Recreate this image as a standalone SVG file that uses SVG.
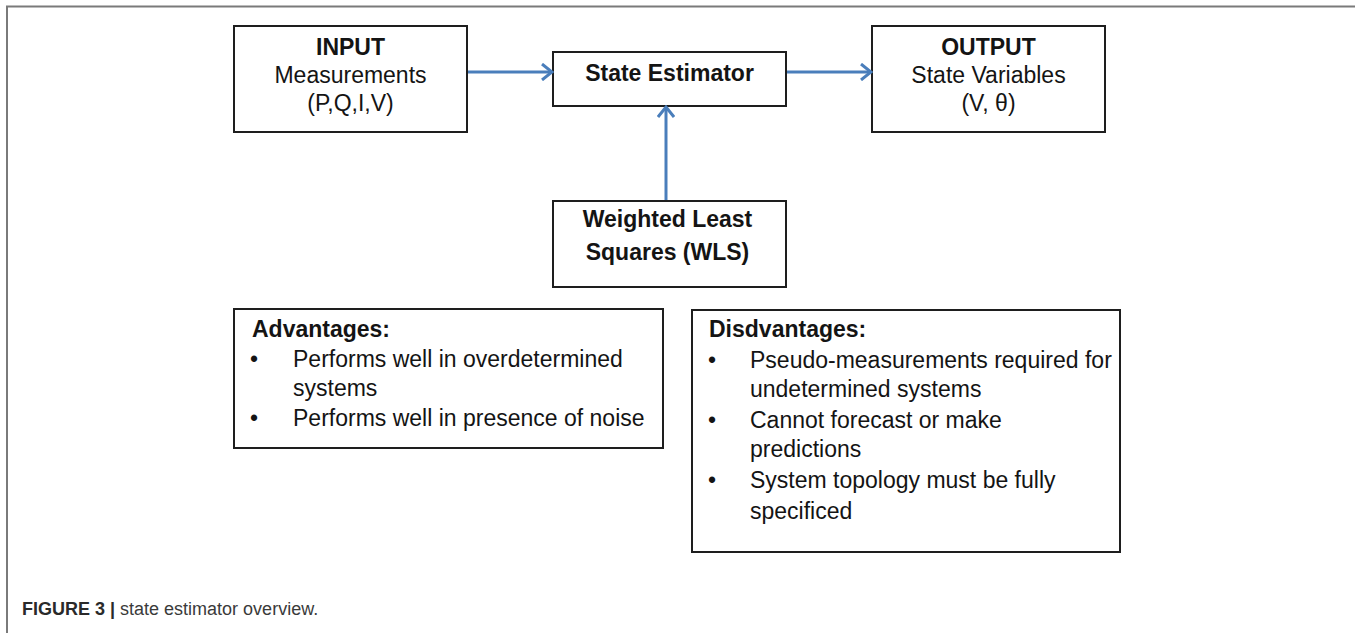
<svg xmlns="http://www.w3.org/2000/svg" width="1355" height="633" viewBox="0 0 1355 633">
<style>
text{font-family:"Liberation Sans",Arial,Helvetica,sans-serif;fill:#141414}
.b{font-weight:bold}
.n{font-size:23px}
.c{text-anchor:middle}
.box{fill:#fff;stroke:#1e1e1e;stroke-width:2}
.conn{stroke:#4a7ebb;stroke-width:3;fill:none}
.cap{font-size:18px;fill:#3a3a3a}
</style>
<defs>
<marker id="arr" viewBox="0 0 14 18" refX="12" refY="9" markerWidth="14" markerHeight="18" markerUnits="userSpaceOnUse" orient="auto">
<path d="M2,1 L12,9 L2,17" fill="none" stroke="#4a7ebb" stroke-width="3"/>
</marker>
</defs>
<rect width="1355" height="633" fill="#fff"/>
<path d="M7,633 L7,6.5 L1355,6.5" fill="none" stroke="#7a7a7a" stroke-width="2"/>

<g id="input">
<rect class="box" x="234" y="26" width="233" height="106"/>
<text class="n b c" x="350.5" y="55">INPUT</text>
<text class="n c" x="350.5" y="83">Measurements</text>
<text class="n c" x="350.5" y="111">(P,Q,I,V)</text>
</g>

<g id="state-estimator">
<rect class="box" x="553" y="52" width="233" height="54"/>
<text class="n b c" x="669.5" y="81">State Estimator</text>
</g>

<g id="output">
<rect class="box" x="872" y="26" width="233" height="106"/>
<text class="n b c" x="988.5" y="55">OUTPUT</text>
<text class="n c" x="988.5" y="83">State Variables</text>
<text class="n c" x="988.5" y="111">(V, θ)</text>
</g>

<g id="wls">
<rect class="box" x="553" y="201" width="233" height="86"/>
<text class="n b c" x="667.5" y="227">Weighted Least</text>
<text class="n b c" x="667.5" y="260">Squares (WLS)</text>
</g>

<g id="advantages">
<rect class="box" x="234" y="309" width="429" height="139"/>
<text class="n b" x="252" y="337">Advantages:</text>
<text class="n" x="250" y="367">•</text>
<text class="n" x="293" y="367">Performs well in overdetermined</text>
<text class="n" x="293" y="396">systems</text>
<text class="n" x="250" y="426">•</text>
<text class="n" x="293" y="426">Performs well in presence of noise</text>
</g>

<g id="disadvantages">
<rect class="box" x="692" y="310" width="428" height="242"/>
<text class="n b" x="709" y="337">Disdvantages:</text>
<text class="n" x="708" y="368">•</text>
<text class="n" x="750" y="368">Pseudo-measurements required for</text>
<text class="n" x="750" y="397">undetermined systems</text>
<text class="n" x="708" y="428">•</text>
<text class="n" x="750" y="428">Cannot forecast or make</text>
<text class="n" x="750" y="457">predictions</text>
<text class="n" x="708" y="488">•</text>
<text class="n" x="750" y="488">System topology must be fully</text>
<text class="n" x="750" y="519">specificed</text>
</g>

<g id="connectors">
<line class="conn" x1="468" y1="72" x2="552" y2="72" marker-end="url(#arr)"/>
<line class="conn" x1="787" y1="72" x2="871" y2="72" marker-end="url(#arr)"/>
<line class="conn" x1="666" y1="200" x2="666" y2="107" marker-end="url(#arr)"/>
</g>

<text class="cap" x="22" y="615"><tspan class="b" fill="#2a2a2a">FIGURE 3 |</tspan> state estimator overview.</text>
</svg>
